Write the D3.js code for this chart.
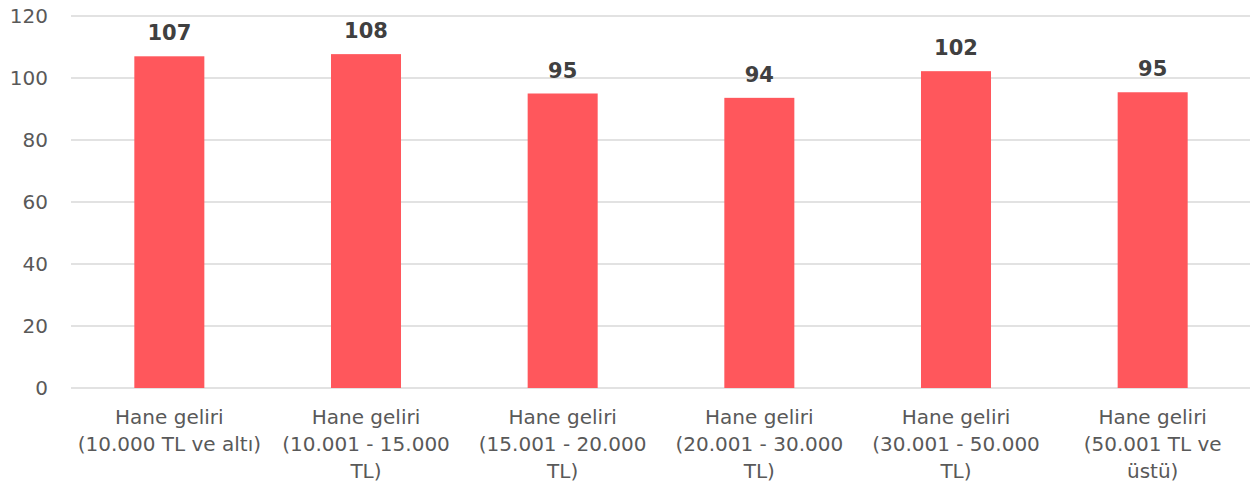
<!DOCTYPE html>
<html>
<head>
<meta charset="utf-8">
<script src="https://cdn.jsdelivr.net/npm/d3@7"></script>
<style>
  html, body { margin: 0; padding: 0; background: #fff; }
  svg { display: block; }
</style>
</head>
<body>
<svg id="chart" width="1250" height="487"></svg>
<script>
const categories = [
  "Hane geliri (10.000 TL ve altı)",
  "Hane geliri (10.001 - 15.000 TL)",
  "Hane geliri (15.001 - 20.000 TL)",
  "Hane geliri (20.001 - 30.000 TL)",
  "Hane geliri (30.001 - 50.000 TL)",
  "Hane geliri (50.001 TL ve üstü)"
];
const categoryLines = [
  ["Hane geliri", "(10.000 TL ve altı)"],
  ["Hane geliri", "(10.001 - 15.000", "TL)"],
  ["Hane geliri", "(15.001 - 20.000", "TL)"],
  ["Hane geliri", "(20.001 - 30.000", "TL)"],
  ["Hane geliri", "(30.001 - 50.000", "TL)"],
  ["Hane geliri", "(50.001 TL ve", "üstü)"]
];
const values = [107.0, 107.7, 95.0, 93.6, 102.2, 95.4];
const yTicks = [0, 20, 40, 60, 80, 100, 120];

const svg = d3.select("#chart");
const mLeft = 71, mRight = 1251, mTop = 16, mBottom = 388;

const x = d3.scaleBand().domain(categories).range([mLeft, mRight]).paddingInner(0).paddingOuter(0);
const y = d3.scaleLinear().domain([0, 120]).range([mBottom, mTop]);
const barW = x.bandwidth() * 0.356;

// gridlines
svg.append("g").selectAll("line").data(yTicks).join("line")
  .attr("x1", mLeft).attr("x2", 1250)
  .attr("y1", d => y(d)).attr("y2", d => y(d))
  .attr("stroke", "#d9d9d9").attr("stroke-width", 1.5);

// y tick labels
svg.append("g").selectAll("text").data(yTicks).join("text")
  .attr("x", 48).attr("y", d => y(d))
  .attr("text-anchor", "end").attr("dominant-baseline", "central")
  .attr("font-family", "DejaVu Sans").attr("font-size", 20)
  .attr("fill", "#595959")
  .text(d => d);

// bars
svg.append("g").selectAll("rect").data(values).join("rect")
  .attr("x", (d, i) => x(categories[i]) + x.bandwidth() / 2 - barW / 2)
  .attr("y", d => y(d))
  .attr("width", barW)
  .attr("height", d => y(0) - y(d))
  .attr("fill", "#ff575c");

// value labels
svg.append("g").selectAll("text").data(values).join("text")
  .attr("x", (d, i) => x(categories[i]) + x.bandwidth() / 2)
  .attr("y", d => y(d) - 16)
  .attr("text-anchor", "middle")
  .attr("font-family", "DejaVu Sans").attr("font-weight", "bold").attr("font-size", 21)
  .attr("fill", "#404040")
  .text(d => Math.round(d));

// category labels
const cat = svg.append("g").selectAll("text").data(categories).join("text")
  .attr("text-anchor", "middle")
  .attr("font-family", "DejaVu Sans").attr("font-size", 20)
  .attr("fill", "#595959");
cat.each(function(d, i) {
  const t = d3.select(this);
  categoryLines[i].forEach((line, j) => {
    t.append("tspan")
      .attr("x", x(d) + x.bandwidth() / 2)
      .attr("y", 424 + j * 27)
      .text(line);
  });
});
</script>
</body>
</html>
